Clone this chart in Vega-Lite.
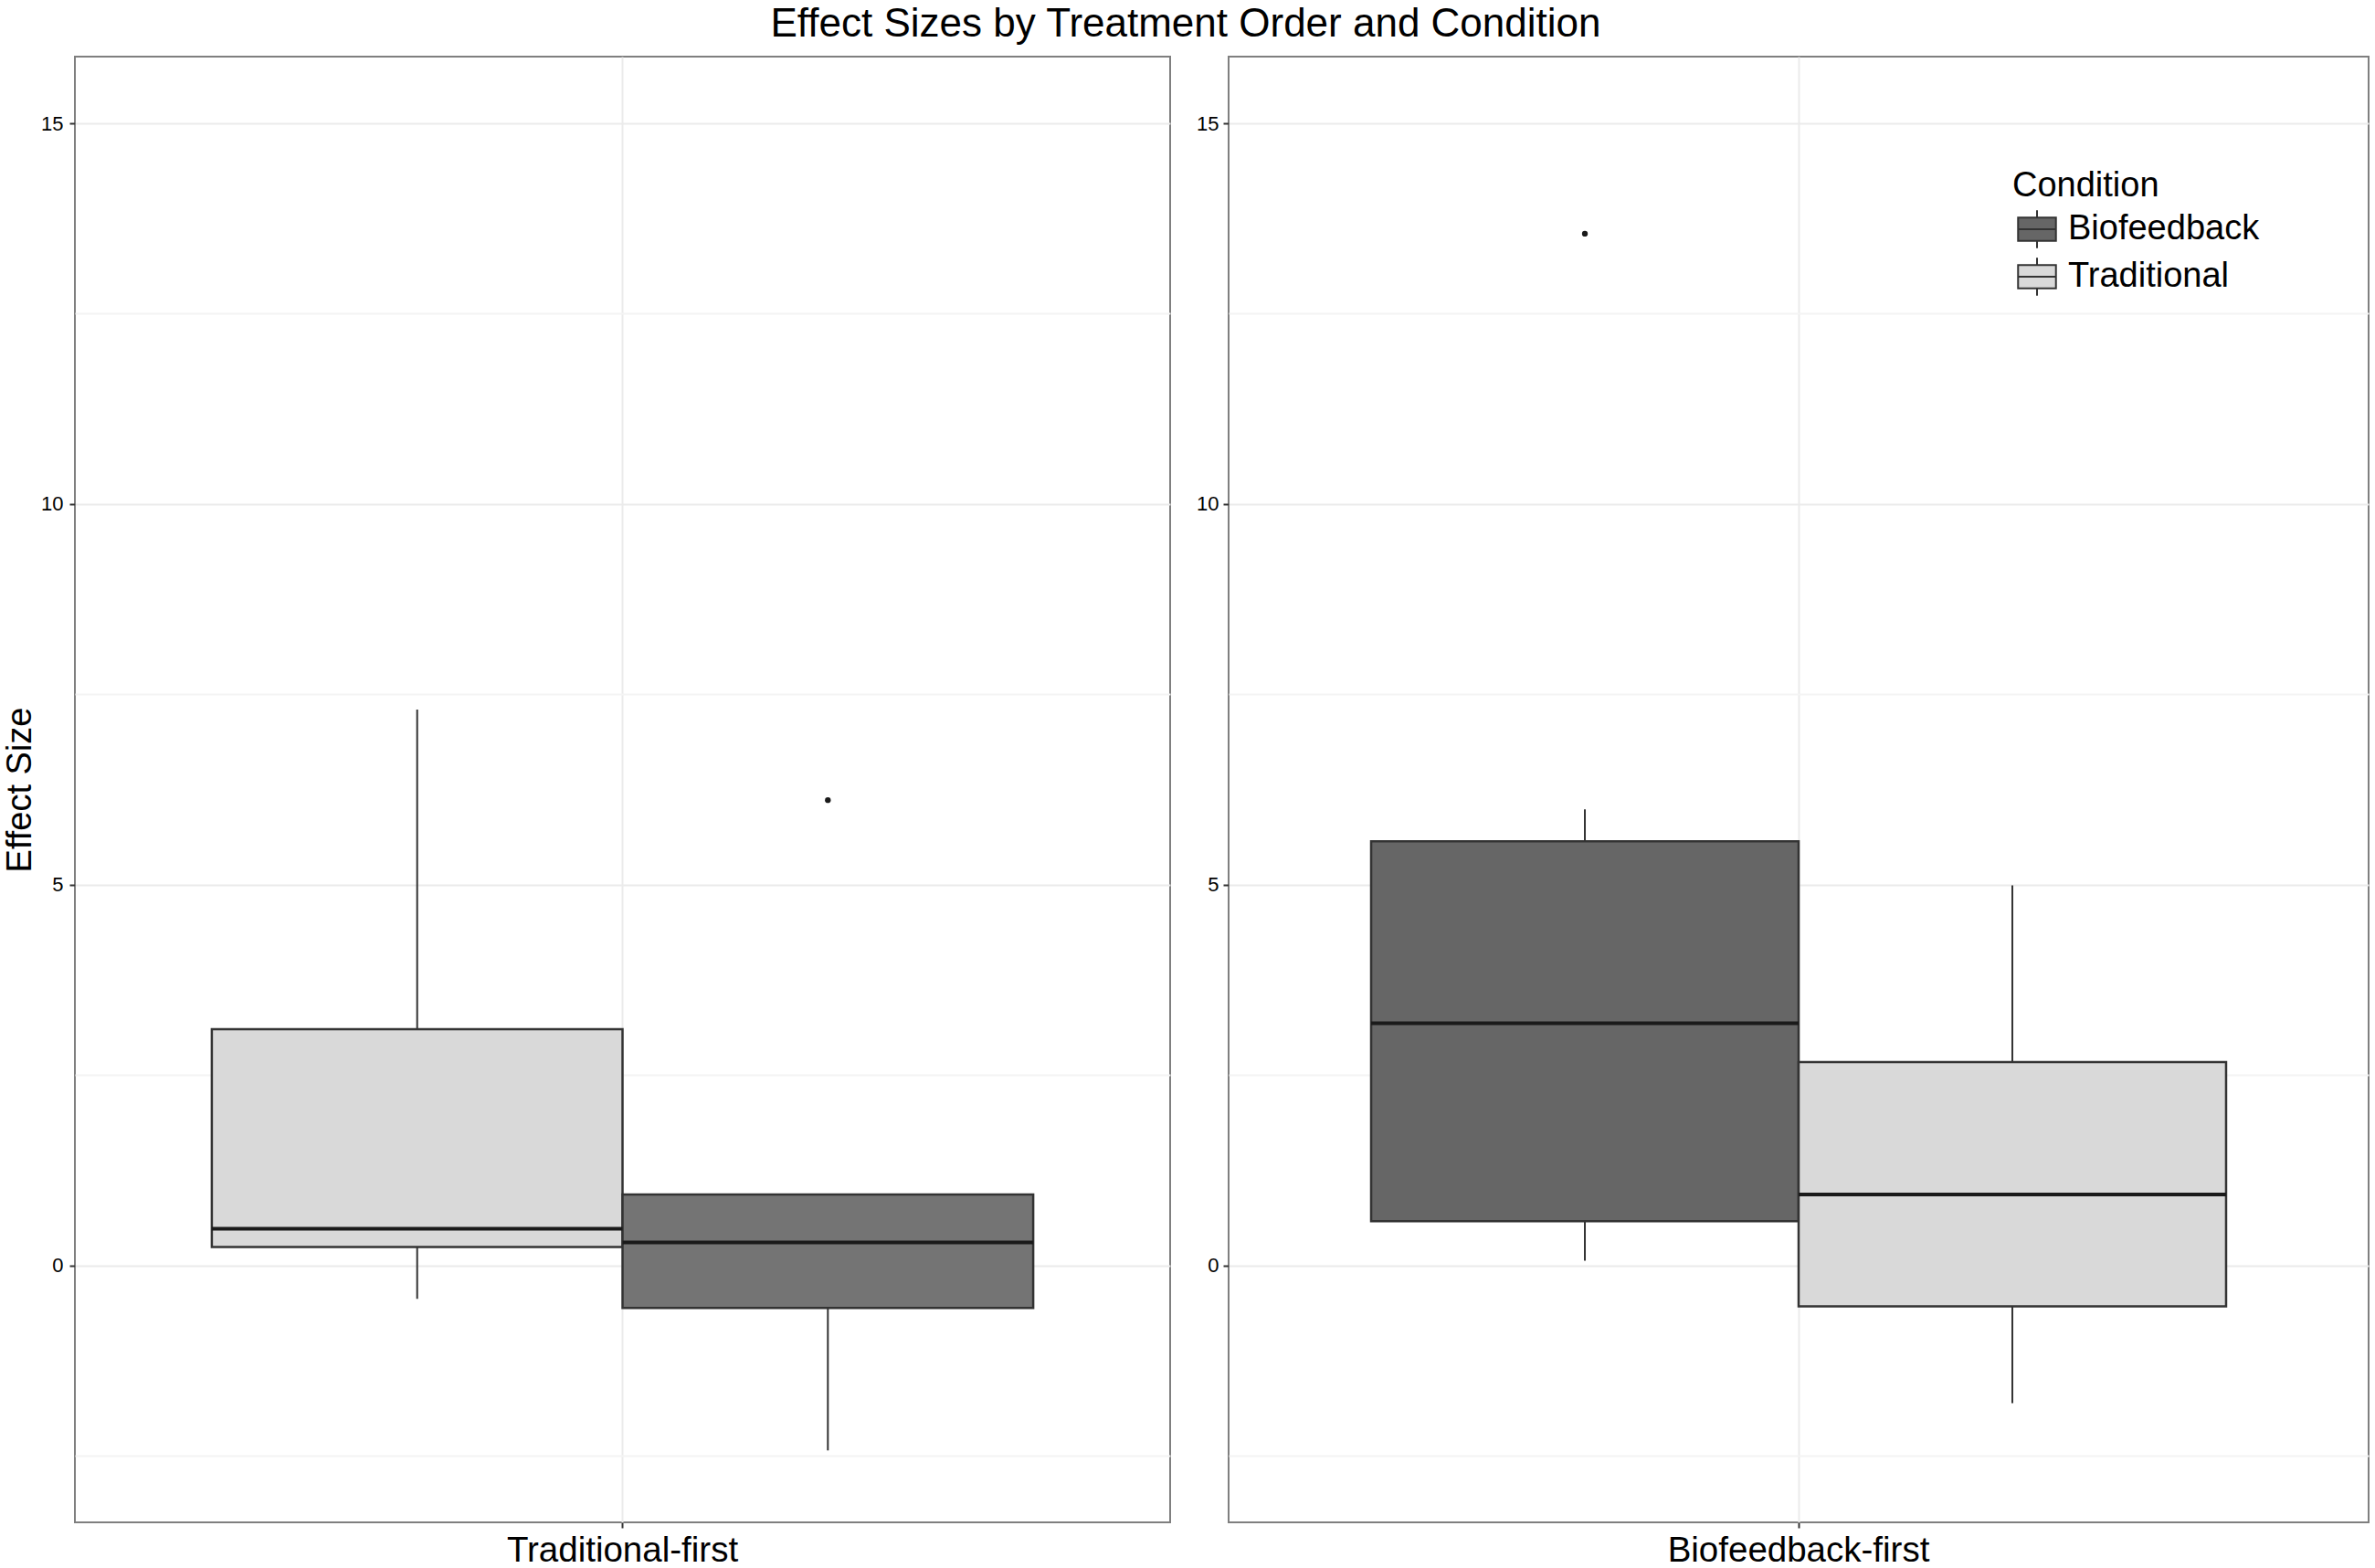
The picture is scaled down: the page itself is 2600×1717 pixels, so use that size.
{
  "$schema": "https://vega.github.io/schema/vega-lite/v6.json",
  "background": "white",
  "padding": {"left": 2, "top": 5, "right": 7, "bottom": 0},
  "title": {
    "text": "Effect Sizes by Treatment Order and Condition",
    "fontSize": 44,
    "fontWeight": "normal",
    "color": "black",
    "anchor": "middle",
    "frame": "bounds",
    "baseline": "bottom",
    "offset": -32
  },
  "datasets": {
    "boxes": [
      {"Order": "Traditional-first", "Condition": "Traditional", "lower": -0.44, "q1": 0.24, "median": 0.48, "q3": 3.1, "upper": 7.3},
      {"Order": "Traditional-first", "Condition": "Biofeedback", "lower": -2.43, "q1": -0.56, "median": 0.3, "q3": 0.93, "upper": 0.93},
      {"Order": "Biofeedback-first", "Condition": "Biofeedback", "lower": 0.06, "q1": 0.58, "median": 3.18, "q3": 5.57, "upper": 5.99},
      {"Order": "Biofeedback-first", "Condition": "Traditional", "lower": -1.81, "q1": -0.54, "median": 0.93, "q3": 2.67, "upper": 4.99}
    ],
    "outliers": [
      {"Order": "Traditional-first", "Condition": "Biofeedback", "value": 6.11},
      {"Order": "Biofeedback-first", "Condition": "Biofeedback", "value": 13.55}
    ]
  },
  "spacing": 24,
  "hconcat": [
    {
      "width": 1199,
      "height": 1605,
      "data": {"name": "boxes"},
      "transform": [{"filter": "datum.Order == 'Traditional-first'"}],
      "encoding": {
        "x": {
          "field": "Order", "type": "nominal",
          "scale": {"paddingInner": 0, "paddingOuter": 0.1667},
          "axis": {"title": null, "labelAngle": 0, "grid": true, "bandPosition": 0.5, "labelFontSize": 38.5, "labelPadding": 6, "labelLimit": 0}
        },
        "xOffset": {
          "field": "Condition", "type": "nominal",
          "scale": {"domain": ["Traditional", "Biofeedback"], "padding": 0}
        }
      },
      "layer": [
        {
          "mark": {"type": "rule", "color": "#333333", "strokeWidth": 2},
          "encoding": {
            "y": {
              "field": "lower", "type": "quantitative",
              "scale": {"domain": [-3.376, 15.876], "nice": false, "zero": false},
              "axis": {"values": [0, 5, 10, 15], "title": "Effect Size", "titleFontSize": 38, "titlePadding": 3, "labelFontSize": 22, "labelPadding": 7, "minExtent": 38, "maxExtent": 38, "grid": true}
            },
            "y2": {"field": "upper"}
          }
        },
        {
          "mark": {"type": "bar", "stroke": "#333333", "strokeWidth": 2.5},
          "encoding": {
            "y": {"field": "q1", "type": "quantitative", "axis": {"orient": "right", "values": [-2.5, 2.5, 7.5, 12.5], "grid": true, "gridColor": "#F4F4F4", "labels": false, "ticks": false, "tickSize": 0, "tickOpacity": 0, "domain": false, "title": null, "offset": 0, "minExtent": 0, "maxExtent": 0}},
            "y2": {"field": "q3"},
            "fill": {
              "field": "Condition", "type": "nominal",
              "scale": {"domain": ["Biofeedback", "Traditional"], "range": ["#747474", "#D9D9D9"]},
              "legend": null
            }
          }
        },
        {
          "mark": {"type": "bar", "fillOpacity": 0, "stroke": "#1A1A1A", "strokeWidth": 4},
          "encoding": {
            "y": {"field": "median", "type": "quantitative", "axis": null},
            "y2": {"field": "median"}
          }
        },
        {
          "data": {"name": "outliers"},
          "transform": [{"filter": "datum.Order == 'Traditional-first'"}],
          "mark": {"type": "point", "filled": true, "color": "#1A1A1A", "size": 40, "opacity": 1},
          "encoding": {
            "y": {"field": "value", "type": "quantitative", "axis": null}
          }
        }
      ],
      "resolve": {"axis": {"y": "independent"}}
    },
    {
      "width": 1248,
      "height": 1605,
      "data": {"name": "boxes"},
      "transform": [{"filter": "datum.Order == 'Biofeedback-first'"}],
      "encoding": {
        "x": {
          "field": "Order", "type": "nominal",
          "scale": {"paddingInner": 0, "paddingOuter": 0.1667},
          "axis": {"title": null, "labelAngle": 0, "grid": true, "bandPosition": 0.5, "labelFontSize": 38.5, "labelPadding": 6, "labelLimit": 0}
        },
        "xOffset": {
          "field": "Condition", "type": "nominal",
          "scale": {"domain": ["Biofeedback", "Traditional"], "padding": 0}
        }
      },
      "layer": [
        {
          "mark": {"type": "rule", "color": "#333333", "strokeWidth": 2},
          "encoding": {
            "y": {
              "field": "lower", "type": "quantitative",
              "scale": {"domain": [-3.376, 15.876], "nice": false, "zero": false},
              "axis": {"values": [0, 5, 10, 15], "title": null, "labelFontSize": 22, "labelPadding": 5, "minExtent": 38, "maxExtent": 38, "grid": true}
            },
            "y2": {"field": "upper"}
          }
        },
        {
          "mark": {"type": "bar", "stroke": "#333333", "strokeWidth": 2.5},
          "encoding": {
            "y": {"field": "q1", "type": "quantitative", "axis": {"orient": "right", "values": [-2.5, 2.5, 7.5, 12.5], "grid": true, "gridColor": "#F4F4F4", "labels": false, "ticks": false, "tickSize": 0, "tickOpacity": 0, "domain": false, "title": null, "offset": 0, "minExtent": 0, "maxExtent": 0}},
            "y2": {"field": "q3"},
            "fill": {
              "field": "Condition", "type": "nominal",
              "scale": {"domain": ["Biofeedback", "Traditional"], "range": ["#666666", "#D9D9D9"]},
              "legend": {
                "title": "Condition",
                "orient": "none",
                "legendX": 858,
                "legendY": 123,
                "padding": 0,
                "titleFontSize": 38,
                "titleFontWeight": "normal",
                "titleColor": "black",
                "titlePadding": 6,
                "labelFontSize": 38,
                "labelColor": "black",
                "labelLimit": 0,
                "symbolType": "M-1,-0.62H1V0.62H-1Z M-1,0H1 M0,-0.62V-1 M0,0.62V1",
                "symbolSize": 1720,
                "symbolStrokeColor": "#333333",
                "symbolStrokeWidth": 2,
                "symbolOffset": 5,
                "labelOffset": 12,
                "rowPadding": 2
              }
            }
          }
        },
        {
          "mark": {"type": "bar", "fillOpacity": 0, "stroke": "#1A1A1A", "strokeWidth": 4},
          "encoding": {
            "y": {"field": "median", "type": "quantitative", "axis": null},
            "y2": {"field": "median"}
          }
        },
        {
          "data": {"name": "outliers"},
          "transform": [{"filter": "datum.Order == 'Biofeedback-first'"}],
          "mark": {"type": "point", "filled": true, "color": "#1A1A1A", "size": 40, "opacity": 1},
          "encoding": {
            "y": {"field": "value", "type": "quantitative", "axis": null}
          }
        }
      ],
      "resolve": {"axis": {"y": "independent"}}
    }
  ],
  "resolve": {"scale": {"fill": "independent", "x": "independent", "xOffset": "independent", "y": "independent"}},
  "config": {
    "font": "Liberation Sans",
    "view": {"stroke": "#7F7F7F", "strokeWidth": 2},
    "axis": {
      "domain": false,
      "tickColor": "#333333",
      "tickWidth": 2,
      "tickSize": 6,
      "labelColor": "black",
      "titleColor": "black",
      "titleFontWeight": "normal",
      "gridColor": "#EBEBEB",
      "gridWidth": 2
    }
  }
}
